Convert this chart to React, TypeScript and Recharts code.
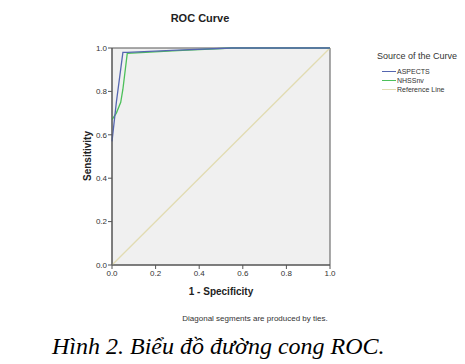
import React from "react";
import { LineChart, Line, XAxis, YAxis, CartesianGrid, ReferenceArea } from "recharts";

const aspectsFpr = [0, 0.02, 0.05, 0.07, 0.3, 0.55, 1.0];
const aspectsTpr = [0.57, 0.75, 0.98, 0.98, 0.99, 1.0, 1.0];
const nihssFpr = [0, 0.02, 0.04, 0.05, 0.07, 0.3, 0.55, 1.0];
const nihssTpr = [0.67, 0.7, 0.75, 0.81, 0.975, 0.988, 1.0, 1.0];
const refFpr = [0, 1];
const refTpr = [0, 1];
const ticks = [0, 0.2, 0.4, 0.6, 0.8, 1.0];
const seriesNames = ["ASPECTS", "NHSSnv", "Reference Line"];
const seriesColors = ["#5566b0", "#4cc05a", "#e2dcb2"];

const toData = (xs: number[], ys: number[]) => xs.map((x, i) => ({ x, y: ys[i] }));

const font = "'Liberation Sans', Arial, sans-serif";

export default function App() {
  const datasets = [toData(aspectsFpr, aspectsTpr), toData(nihssFpr, nihssTpr), toData(refFpr, refTpr)];
  return (
    <div style={{ position: "absolute", left: 0, top: 0, width: 465, height: 364, background: "#fff", fontFamily: font }}>
      <LineChart width={465} height={364} margin={{ top: 48, right: 135, bottom: 79, left: 82 }}>
        <CartesianGrid fill="#f0f0f0" fillOpacity={1} horizontal={false} vertical={false} />
        <XAxis
          type="number"
          dataKey="x"
          domain={[0, 1]}
          ticks={ticks}
          tickFormatter={(v: number) => v.toFixed(1)}
          stroke="#555"
          tick={{ fontSize: 8, fill: "#333", fontFamily: font }}
          tickSize={4}
          tickMargin={1}
          height={20}
          allowDuplicatedCategory={false}
        />
        <YAxis
          type="number"
          dataKey="y"
          domain={[0, 1]}
          ticks={ticks}
          tickFormatter={(v: number) => v.toFixed(1)}
          stroke="#555"
          tick={{ fontSize: 8, fill: "#333", fontFamily: font }}
          tickSize={4}
          tickMargin={1}
          width={30}
        />
        <ReferenceArea x1={0} x2={1} y1={0} y2={1} fill="none" stroke="#555" strokeWidth={1} />
        {[2, 1, 0].map((i) => (
          <Line
            key={seriesNames[i]}
            data={datasets[i]}
            dataKey="y"
            type="linear"
            stroke={seriesColors[i]}
            strokeWidth={1.3}
            dot={false}
            isAnimationActive={false}
            name={seriesNames[i]}
          />
        ))}
      </LineChart>
      <div style={{ position: "absolute", left: 0, width: 400, top: 12, textAlign: "center", fontSize: 11, fontWeight: "bold", color: "#222" }}>ROC Curve</div>
      <div style={{ position: "absolute", left: 112, width: 218, top: 286, textAlign: "center", fontSize: 10, fontWeight: "bold", color: "#222" }}>1 - Specificity</div>
      <div style={{ position: "absolute", left: 40, top: 150, width: 100, textAlign: "center", fontSize: 10, fontWeight: "bold", color: "#222", transform: "rotate(-90deg)", transformOrigin: "50% 50%", lineHeight: "12px", marginLeft: -2 }}>Sensitivity</div>
      <div style={{ position: "absolute", left: 377, top: 51, fontSize: 9, color: "#333" }}>Source of the Curve</div>
      {seriesNames.map((n, i) => (
        <div key={n} style={{ position: "absolute", left: 382, top: 67 + i * 9, fontSize: 7, color: "#333", display: "flex", alignItems: "center", lineHeight: "9px" }}>
          <span style={{ display: "inline-block", width: 14, height: 0, borderTop: `1px solid ${seriesColors[i]}`, marginRight: 1 }} />
          {n}
        </div>
      ))}
      <div style={{ position: "absolute", left: 0, width: 510, top: 314, textAlign: "center", fontSize: 8, color: "#333" }}>Diagonal segments are produced by ties.</div>
      <div style={{ position: "absolute", left: 52, top: 333, fontSize: 24, fontStyle: "italic", fontFamily: "'Liberation Serif', 'Times New Roman', serif", color: "#000", whiteSpace: "nowrap" }}>Hình 2. Biểu đồ đường cong ROC.</div>
    </div>
  );
}
